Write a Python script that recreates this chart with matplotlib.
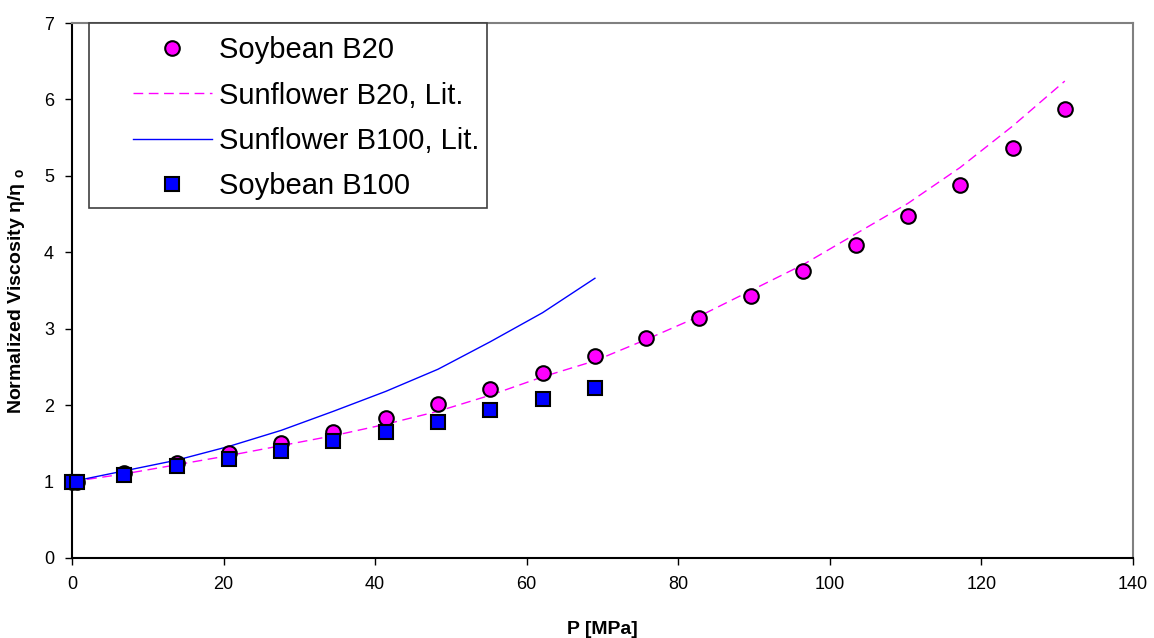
import numpy as np
import matplotlib
matplotlib.use("Agg")
from matplotlib import pyplot as plt
from matplotlib.patches import Rectangle

plt.rcParams['font.family'] = ['Liberation Sans', 'DejaVu Sans']

# pressure points [MPa]
p_b20 = [0, 0.7, 6.9, 13.8, 20.7, 27.6, 34.5, 41.4, 48.3, 55.2, 62.1, 69.0,
         75.8, 82.7, 89.6, 96.5, 103.4, 110.3, 117.2, 124.1, 131.0]
soy_b20 = [1.0, 1.0, 1.11, 1.24, 1.37, 1.50, 1.65, 1.83, 2.01, 2.21, 2.42, 2.64,
           2.88, 3.14, 3.43, 3.76, 4.09, 4.47, 4.88, 5.36, 5.88]

p_lit20 = [0, 6.9, 13.8, 20.7, 27.6, 34.5, 41.4, 48.3, 55.2, 62.1, 69.0,
           75.8, 82.7, 89.6, 96.5, 103.4, 110.3, 117.2, 124.1, 131.0]
sun_b20 = [1.0, 1.1, 1.22, 1.34, 1.47, 1.6, 1.75, 1.92, 2.13, 2.37, 2.58,
           2.86, 3.16, 3.5, 3.84, 4.24, 4.64, 5.11, 5.65, 6.24]

p_lit100 = [0, 6.9, 13.8, 20.7, 27.6, 34.5, 41.4, 48.3, 55.2, 62.1, 69.0]
sun_b100 = [1.0, 1.14, 1.28, 1.46, 1.67, 1.92, 2.18, 2.47, 2.83, 3.21, 3.66]

p_b100 = [0, 0.7, 6.9, 13.8, 20.7, 27.6, 34.5, 41.4, 48.3, 55.2, 62.1, 69.0]
soy_b100 = [1.0, 1.0, 1.09, 1.2, 1.3, 1.4, 1.53, 1.65, 1.78, 1.93, 2.08, 2.23]

W, H = 1154, 638
fig = plt.figure(figsize=(W / 100, H / 100), dpi=100)
ax = fig.add_axes([72 / W, 1 - 558 / H, (1133 - 72) / W, (558 - 23) / H])

h1, = ax.plot(p_b20, soy_b20, 'o', ms=10.5, mfc='#FF00FF', mec='black', mew=1.5,
              label='Soybean B20', zorder=4, clip_on=False)
h2, = ax.plot(p_lit20, sun_b20, '--', color='#FF00FF', lw=1, dashes=(7, 4),
              label='Sunflower B20, Lit.', zorder=3)
h3, = ax.plot(p_lit100, sun_b100, '-', color='#0000FF', lw=1,
              label='Sunflower B100, Lit.', zorder=3)
h4, = ax.plot(p_b100, soy_b100, 's', ms=10.5, mfc='#0000FF', mec='black', mew=1.5,
              label='Soybean B100', zorder=5, clip_on=False)

ax.set_xlim(0, 140)
ax.set_ylim(0, 7)
ax.set_xticks(range(0, 141, 20))
ax.set_yticks(range(0, 8))
ax.tick_params(direction='out', length=5, width=1, labelsize=13, pad=8)

for s in ['left', 'bottom']:
    ax.spines[s].set_color('black')
    ax.spines[s].set_linewidth(1.5)
for s in ['top', 'right']:
    ax.spines[s].set_color('#808080')
    ax.spines[s].set_linewidth(1.5)

ax.set_xlabel('P [MPa]', fontsize=14, fontweight='bold')
ax.xaxis.set_label_coords(0.5, -0.118)
ax.set_ylabel(r'Normalized Viscosity η/η $_\mathregular{o}$', fontsize=14, fontweight='bold')
ax.yaxis.set_label_coords(-0.042, 0.5)

# legend box
fig.patches.append(Rectangle((89 / W, 1 - 208 / H), (487 - 89) / W, (208 - 23) / H,
                             transform=fig.transFigure, fill=True, facecolor='white',
                             edgecolor='#404040', lw=1.2, zorder=10))
leg = fig.legend(handles=[h1, h2, h3, h4], loc='upper left',
                 bbox_to_anchor=(133 / W, 1 - 36 / H), frameon=False,
                 fontsize=21, handlelength=2.7, handletextpad=0.25,
                 labelspacing=0.6, borderpad=0, borderaxespad=0)
leg.set_zorder(11)

fig.savefig('out.png', dpi=100)
